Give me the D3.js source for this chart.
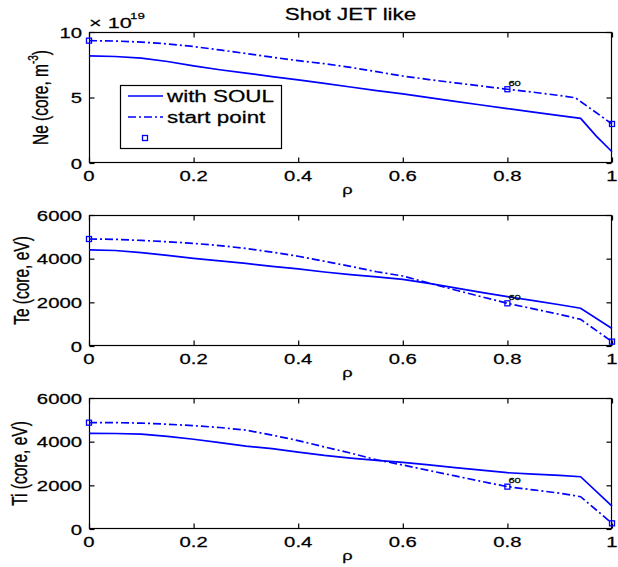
<!DOCTYPE html>
<html><head><meta charset="utf-8">
<script src="https://cdn.jsdelivr.net/npm/d3@7/dist/d3.min.js"></script>
<style>
body{margin:0;background:#fff}
svg{display:block}
text{font-family:"Liberation Sans",Arial,Helvetica,sans-serif;fill:#000;stroke:#000;stroke-width:0.25px}
</style>
</head><body>
<svg id="chart" width="618" height="567"></svg>
<script>
// ---------- data ----------
const chartTitle = "Shot JET like";
const xTicks = [0, 0.2, 0.4, 0.6, 0.8, 1];
const xTickLabels = ["0", "0.2", "0.4", "0.6", "0.8", "1"];
const legendLabels = ["with SOUL", "start point", ""];

const rho = [0,0.05,0.1,0.15,0.2,0.25,0.3,0.35,0.4,0.45,0.5,0.55,0.6,0.65,0.7,0.75,0.8,0.85,0.9,0.94,1.0];
const rhoNeSoul = [0,0.05,0.1,0.15,0.2,0.25,0.3,0.35,0.4,0.45,0.5,0.55,0.6,0.65,0.7,0.75,0.8,0.85,0.9,0.94,0.97,1.0];
const rhoNeStart = [0,0.05,0.1,0.15,0.2,0.25,0.3,0.35,0.4,0.45,0.5,0.55,0.6,0.65,0.7,0.75,0.8,0.85,0.9,0.93,1.0];

// Ne in units of 1e19 m^-3
const neSoul  = [8.17,8.13,8.00,7.75,7.42,7.12,6.86,6.60,6.35,6.08,5.80,5.53,5.27,4.99,4.71,4.43,4.15,3.88,3.62,3.41,2.05,0.86];
const neStart = [9.34,9.31,9.23,9.09,8.89,8.63,8.36,8.08,7.81,7.58,7.30,6.97,6.64,6.37,6.12,5.88,5.63,5.40,5.15,4.98,2.98];
// Te (eV)
const teSoul  = [4400,4375,4275,4150,4015,3900,3780,3650,3530,3390,3270,3165,3050,2865,2665,2460,2260,2080,1890,1730,800];
const teStart = [4900,4885,4835,4775,4700,4600,4470,4300,4110,3880,3650,3400,3205,2880,2565,2260,1955,1700,1445,1222,200];
// Ti (eV)
const tiSoul  = [4380,4375,4345,4245,4110,3960,3800,3680,3520,3370,3250,3140,3055,2935,2815,2695,2578,2515,2455,2395,1050];
const tiStart = [4870,4870,4850,4800,4730,4650,4530,4300,4050,3760,3480,3170,2930,2680,2430,2180,1940,1790,1640,1480,260];

const markerRho = [0, 0.8, 1.0];
const markerTag = "60";
const markerTagRho = 0.8;

const neTicks = [0, 5, 10];
const teTicks = [0, 2000, 4000, 6000];
const tiTicks = [0, 2000, 4000, 6000];

const panels = [
  {label:["Ne (core, m", "-3", ")"], yMax:10, yTicks:neTicks, soulX:rhoNeSoul, soul:neSoul, startX:rhoNeStart, start:neStart, exp:"19", legend:true},
  {label:["Te (core, eV)"], yMax:6000, yTicks:teTicks, soulX:rho, soul:teSoul, startX:rho, start:teStart},
  {label:["Ti (core, eV)"], yMax:6000, yTicks:tiTicks, soulX:rho, soul:tiSoul, startX:rho, start:tiStart}
];

// ---------- layout ----------
const L = 89, R = 612, PH = 131;
const tops = [32, 215, 398];
const ylabelX = [47.5, 28.5, 27];
const SX = 1.4;            // horizontal glyph stretch
const BLUE = "#0000ff";
const DASHDOT = "8,3,2,3";

const svg = d3.select("#chart");
svg.append("rect").attr("width",618).attr("height",567).attr("fill","#fff");

const x = d3.scaleLinear().domain([0,1]).range([L,R]);

function htext(g, px, py, str, size, anchor){
  return g.append("text")
    .attr("transform",`translate(${px},${py}) scale(${SX},1)`)
    .attr("text-anchor",anchor||"start")
    .attr("font-size",size)
    .text(str);
}

// title
htext(svg, (L+R)/2, 19.5, chartTitle, 16, "middle");

panels.forEach((p,i)=>{
  const top = tops[i], bot = top+PH;
  const y = d3.scaleLinear().domain([0,p.yMax]).range([bot,top]);
  const g = svg.append("g");

  // frame
  g.append("rect").attr("x",L+0.5).attr("y",top+0.5).attr("width",R-L-1).attr("height",PH-1)
    .attr("fill","none").attr("stroke","#000").attr("stroke-width",1.2);

  // ticks on all four sides, pointing inward
  const xb = d3.axisBottom(x).tickValues(xTicks).tickSize(-5).tickFormat("");
  const xt = d3.axisTop(x).tickValues(xTicks).tickSize(-5).tickFormat("");
  const gxb = g.append("g").attr("transform",`translate(0,${bot-0.5})`).call(xb);
  const gxt = g.append("g").attr("transform",`translate(0,${top+0.5})`).call(xt);
  const yl = d3.axisLeft(y).tickValues(p.yTicks).tickSize(-5).tickFormat("");
  const yr = d3.axisRight(y).tickValues(p.yTicks).tickSize(-5).tickFormat("");
  const gyl = g.append("g").attr("transform",`translate(${L+0.5},0)`).call(yl);
  const gyr = g.append("g").attr("transform",`translate(${R-0.5},0)`).call(yr);
  [gxb,gxt,gyl,gyr].forEach(a=>{a.select(".domain").remove(); a.selectAll("line").attr("stroke","#000").attr("stroke-width",1.2);});

  xTicks.forEach((t,k)=> htext(g, x(t), bot+18, xTickLabels[k], 14.5, "middle"));
  p.yTicks.forEach(t=> htext(g, L-7, y(t)+5.5, String(t), 14.5, "end"));

  // x label rho
  htext(g, (L+R)/2 - 3, bot+31, "ρ", 13, "middle");

  // y label
  const lab = g.append("text")
    .attr("transform",`translate(${ylabelX[i]},${top+PH/2}) scale(${SX},1) rotate(-90)`)
    .attr("text-anchor","middle").attr("font-size",15.5);
  if (p.label.length===3){
    lab.append("tspan").text(p.label[0]);
    lab.append("tspan").attr("font-size",10).attr("dy",-7).text(p.label[1]);
    lab.append("tspan").attr("dy",7).text(p.label[2]);
  } else lab.text(p.label[0]);

  // exponent
  if (p.exp){
    htext(g, L, top-4, "× 10", 15.5, "start");
    htext(g, L+41, top-13, p.exp, 9.5, "start");
  }

  // lines
  const lineS = d3.line().x((d,k)=>x(p.soulX[k])).y(d=>y(d));
  const lineD = d3.line().x((d,k)=>x(p.startX[k])).y(d=>y(d));
  g.append("path").attr("d",lineS(p.soul)).attr("fill","none").attr("stroke",BLUE).attr("stroke-width",1.7);
  g.append("path").attr("d",lineD(p.start)).attr("fill","none").attr("stroke",BLUE).attr("stroke-width",1.7)
    .attr("stroke-dasharray",DASHDOT);

  // markers on start profile
  const interp = (r)=>{
    const xs=p.startX, ys=p.start;
    for(let k=0;k<xs.length-1;k++){ if(r>=xs[k] && r<=xs[k+1]){ const f=(r-xs[k])/(xs[k+1]-xs[k]); return ys[k]+f*(ys[k+1]-ys[k]); } }
    return ys[ys.length-1];
  };
  markerRho.forEach(r=>{
    g.append("rect").attr("x",x(r)-2.5).attr("y",y(interp(r))-2.5).attr("width",5).attr("height",5)
      .attr("fill","none").attr("stroke",BLUE).attr("stroke-width",1.3);
  });
  g.append("text").attr("transform",`translate(${x(markerTagRho)+1},${y(interp(markerTagRho))-3.3}) scale(${SX},1)`)
    .attr("font-size",8).attr("fill","#222").attr("stroke","none").text(markerTag);

  // legend
  if (p.legend){
    const lg = g.append("g");
    lg.append("rect").attr("x",120.5).attr("y",85.5).attr("width",161).attr("height",63)
      .attr("fill","#fff").attr("stroke","#000").attr("stroke-width",1.2);
    lg.append("line").attr("x1",128).attr("x2",163).attr("y1",96).attr("y2",96).attr("stroke",BLUE).attr("stroke-width",1.7);
    lg.append("line").attr("x1",128).attr("x2",163).attr("y1",117).attr("y2",117).attr("stroke",BLUE).attr("stroke-width",1.7).attr("stroke-dasharray",DASHDOT);
    lg.append("rect").attr("x",142.5).attr("y",135.5).attr("width",5).attr("height",5).attr("fill","none").attr("stroke",BLUE).attr("stroke-width",1.3);
    htext(lg, 167, 101.5, legendLabels[0], 16, "start");
    htext(lg, 167, 122.5, legendLabels[1], 16, "start");
  }
});
</script>
</body></html>
